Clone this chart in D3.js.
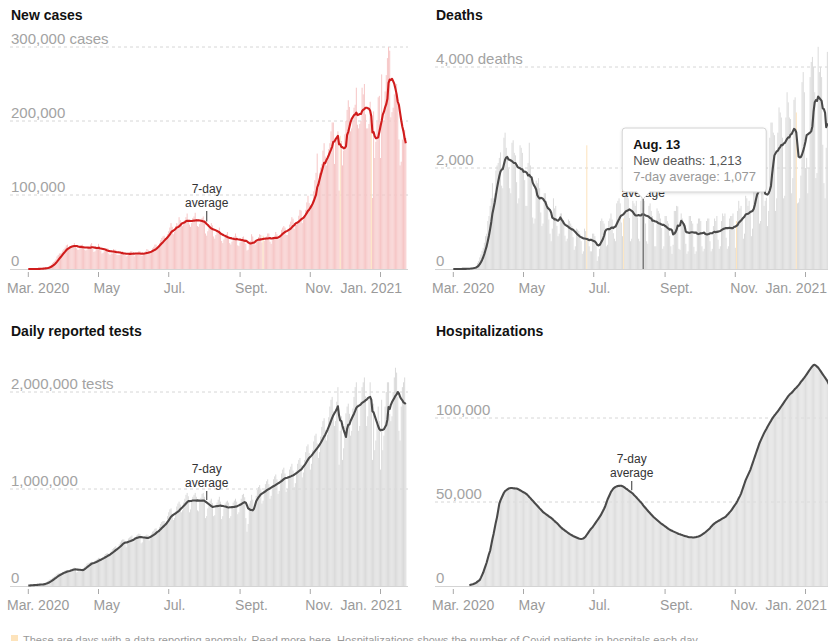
<!DOCTYPE html>
<html><head><meta charset="utf-8">
<script src="https://cdn.jsdelivr.net/npm/d3@7/dist/d3.min.js"></script>
<style>
html,body{margin:0;padding:0;background:#fff;overflow:hidden}
svg{display:block;font-family:"Liberation Sans",Arial,Helvetica,sans-serif}
</style></head><body>
<svg id="chart" width="828" height="641"></svg>
<script>
// ---------- DATA (one row = one week, Sunday..Saturday, starting Sun. Mar. 1, 2020) ----------
const tickDates = ["2020-03-01","2020-05-01","2020-07-01","2020-09-01","2020-11-01","2021-01-01"];
const tickLabels = ["Mar. 2020","May","Jul.","Sept.","Nov.","Jan. 2021"];

// New cases, thousands per day
const casesDaily = [
0.01,0.02,0.03,0.03,0.05,0.07,0.1,
0.13,0.2,0.28,0.4,0.55,0.7,1.0,
1.1,1.6,1.9,2.6,3.6,4.8,5.9,
8,9.5,11,13,17,19,21,
21,22,25,27,29,32,33,
28,29,30,31,32,35,32,
28,26,26,30,32,33,31,
26,25,26,29,31,33,35,
27,23,24,27,30,34,31,
25,21,22,24,27,28,28,
21,19,21,21,27,26,26,
19,19,19,20,23,24,23,
19,17,18,20,22,24,24,
20,17,20,20,22,24,24,
18,18,19,22,24,27,26,
21,20,24,28,30,33,33,
30,31,35,39,42,44,45,
42,42,47,51,56,62,57,
47,50,58,62,60,70,66,
60,58,62,66,70,75,64,
60,57,62,69,71,76,67,
58,57,61,67,69,71,65,
48,45,51,55,58,62,59,
44,41,46,50,52,56,47,
38,35,40,45,47,50,42,
35,33,37,43,44,48,44,
32,31,36,40,43,44,40,
34,25,26,34,38,47,44,
35,33,37,39,43,47,46,
36,37,38,40,44,48,48,
37,34,39,42,45,50,47,
40,41,46,53,56,58,56,
46,46,52,60,64,70,68,
54,60,60,64,72,80,79,
62,67,73,80,90,99,89,
80,86,93,105,120,130,156,
110,130,137,142,160,170,152,
140,150,162,170,186,198,198,
142,172,178,186,106,198,173,
140,160,182,200,215,228,219,
186,190,200,218,222,245,195,
190,196,200,245,236,250,209,
190,190,196,226,184,96,213,
150,172,199,232,234,150,263,
210,200,240,262,285,300,295,
205,212,218,236,238,250,223,
175,140,145,175,190,188,177
];
const casesAnomalies = [[204,45],[271,180],[298,200]];
const casesTicks = [0,100,200,300];

// Deaths per day
const deathsDaily = [
0,0,1,1,1,2,2,
2,3,4,5,6,7,8,
12,18,24,30,36,45,50,
120,160,230,290,360,420,520,
650,700,950,1050,1250,1400,1700,
1400,1500,1950,2050,2100,2200,2310,
1650,1600,2600,2700,2400,2250,1990,
1600,1500,2500,2550,2300,2250,1720,
1300,1400,2450,2400,2300,1900,1760,
1250,1250,2100,2500,2050,1800,1020,
900,1000,1750,1700,1800,1600,1120,
850,900,1500,1500,1350,1250,980,
700,550,800,1400,1200,1250,855,
650,700,1100,1100,1000,950,660,
550,600,980,950,900,850,630,
380,450,800,780,750,700,550,
300,350,800,750,720,620,450,
350,350,700,700,650,450,160,
250,400,950,1000,950,900,800,
450,480,950,1000,1100,980,710,
600,550,1300,1350,1400,1300,920,
650,700,1500,1550,1450,1400,1010,
550,600,1350,1300,1250,1350,1020,
600,550,1350,1456,1213,1350,901,
550,500,1250,1300,1150,1050,920,
450,450,1200,1150,1100,1000,810,
400,450,1050,1050,950,900,660,
450,300,480,1150,1150,1250,1240,
400,380,1100,1000,900,900,500,
300,350,1050,1050,950,900,440,
300,350,900,1000,1000,950,450,
350,400,700,950,1000,1000,550,
350,400,850,1000,950,1050,580,
400,450,950,1100,1050,1100,620,
400,450,1000,1050,1050,1100,795,
420,550,1150,1350,1200,1250,1010,
600,700,1450,1400,1250,1350,1160,
650,800,1700,2000,2000,2000,1490,
900,950,2200,2300,1250,1350,1410,
850,1150,2600,2900,2900,2700,2650,
1150,1400,2700,3200,3100,3000,2600,
1400,1450,3000,3500,3300,3000,2970,
1500,1800,3350,3400,2900,1300,1318,
1400,1850,3700,3900,3500,2000,2200,
1500,2000,3800,4100,4200,4000,3500,
1800,1900,4400,3900,4000,3800,2460,
1700,1400,2400,4300,4000,3900,2950
];
const deathsAnomalies = [[116,2450],[148,1000],[246,950],[298,3100]];
const deathsTicks = [0,2000,4000];

// Daily reported tests, thousands per day
const testsDaily = [
5,6,8,10,12,13,16,
12,13,15,17,19,20,23,
28,32,40,50,60,70,70,
85,90,100,110,125,130,130,
130,135,145,150,160,165,165,
150,155,170,175,185,190,179,
140,145,160,170,175,180,185,
200,210,230,235,240,245,250,
230,235,260,270,280,290,290,
270,280,300,315,330,335,340,
320,330,360,380,390,400,410,
380,390,430,450,470,480,480,
430,400,440,490,500,510,520,
450,460,500,520,530,540,535,
440,450,490,510,520,530,525,
470,490,540,560,570,590,595,
540,550,610,640,660,670,670,
620,640,720,760,790,800,745,
680,700,770,820,850,870,840,
760,780,860,900,940,960,925,
760,790,870,920,940,960,920,
780,770,870,910,950,960,920,
700,720,800,850,880,900,855,
720,730,820,860,890,920,870,
690,720,800,850,870,880,860,
700,720,810,860,880,900,870,
740,760,850,900,940,950,915,
700,560,640,850,880,940,890,
800,830,930,990,1020,1040,1005,
850,880,990,1050,1080,1100,1050,
900,930,1040,1100,1130,1150,1100,
950,980,1100,1160,1200,1220,1160,
970,1000,1130,1200,1230,1260,1190,
1020,1060,1190,1260,1300,1320,1250,
1120,1170,1300,1380,1440,1460,1370,
1200,1260,1400,1490,1550,1570,1470,
1320,1380,1540,1640,1700,1730,1610,
1500,1560,1740,1850,1920,1950,1800,
1650,1700,1900,2050,1250,1600,1750,
1300,1420,1650,1780,1850,1880,1775,
1550,1600,1830,1950,2050,2100,1870,
1600,1650,1900,2050,2100,2150,1955,
1650,1750,1950,2100,1900,1300,1880,
1400,1500,1700,1850,1700,1200,1920,
1400,1550,1850,2000,2100,2100,1775,
1700,1750,2000,2150,2250,2200,1950,
1600,1500,1850,2050,2100,2150,1882
];
const testsTicks = [0,1000,2000];

// Hospitalized patients, thousands
const hospDaily = [
null,null,null,null,null,null,null,
null,null,null,null,null,null,null,
0.5,0.7,0.9,1.0,1.3,1.6,2.0,
2.6,3.1,3.6,5,6.5,8,10,
12,14,16.5,19,21,24.5,28,
31,34.5,38,41,45,49,51,
52.5,54,55.5,56.5,57,57.5,58,
58.2,58.3,58.3,58.2,58.1,58,58,
57.7,57.4,57,56.6,56.2,55.8,55.5,
55,54.5,53.8,53,52.3,51.5,50.8,
50,49.2,48.5,47.8,47,46.2,45.5,
44.8,44,43.5,43,42.5,42,41.5,
41,40.5,40,39.3,38.7,38,37.5,
36.8,36,35.3,34.6,34,33.5,33,
32.5,32,31.5,31,30.6,30.2,29.8,
29.5,29.2,28.9,28.6,28.3,28.1,28,
28.1,28.3,28.8,29.5,30.5,31.5,32.5,
33.5,34.3,35,36,37,38,39,
40,41,42,43.3,44.6,46,47.5,
49.5,51.5,53,54.5,56,57,58,
58.5,59,59.3,59.5,59.6,59.7,59.7,
59.4,59,58.5,58,57.6,57,56.5,
56,55.5,55,54.2,53.5,52.8,52,
51.3,50.5,49.8,49,48,47.2,46.4,
45.6,44.8,44,43.3,42.5,41.8,41.1,
40.5,39.9,39.3,38.7,38.1,37.5,37,
36.5,36,35.5,35,34.5,34,33.6,
33.2,32.9,32.5,32.2,31.9,31.6,31.3,
31,30.8,30.5,30.3,30,29.8,29.6,
29.4,29.2,29,29,29,28.9,28.9,
29,29.1,29.3,29.5,29.8,30.1,30.5,
31,31.5,32,32.6,33.2,33.8,34.4,
35.3,36,36.7,37.3,37.8,38.2,38.6,
39,39.4,39.8,40.2,40.6,41,41.5,
42.3,43,43.8,44.6,45.5,46.5,47.5,
48.5,49.5,50.8,52.2,53.5,55,57,
59,61,63,64.5,66,67.5,69,
71,73,75,77,79,81,83,
85,86.5,88,89.5,91,92.3,93.5,
94.8,96,97.2,98.3,99.5,100.5,101.5,
102.3,103.2,104,105,106,107,108,
109,110,111,112,113,113.8,114.5,
115,115.8,116.6,117.4,118,118.8,119.6,
120.5,121.5,122.3,123.2,124,125,126,
127,128,129,130,130.8,131.5,131.7,
131.2,130.6,130,129,128,127,126,
125,124,123,122,120.5,119.5,118
];
const hospTicks = [0,50,100];

const hoverDay = 165;           // Aug. 13
const hoverLabel = "Aug. 13";
const annotationDay = 155;
const footnote = "These are days with a data reporting anomaly. Read more here. Hospitalizations shows the number of Covid patients in hospitals each day.";

// ---------- DRAWING ----------
const svg = d3.select("#chart");
const DAY0 = new Date(2020, 2, 1, 12), JAN1 = new Date(2021, 0, 1, 12);
const dayDate = i => d3.timeDay.offset(DAY0, i);
const fmt = d3.format(",");
const ANOM = "#fde3bb";

function trailingMean(arr) {
  return arr.map((v, i) => {
    if (v == null) return null;
    const w = arr.slice(Math.max(0, i - 6), i + 1).filter(d => d != null);
    return d3.mean(w);
  });
}

function panel(c) {
  const g = svg.append("g");
  const x = d3.scaleTime().domain([DAY0, JAN1]).range([28.3 + c.dx, 380.5 + c.dx]);
  const y = d3.scaleLinear().domain([0, c.yMax]).range([c.base, c.top]);
  const gx0 = 10 + c.dx, gx1 = 408 + c.dx;

  g.append("text").attr("x", 11 + c.dx).attr("y", c.titleY)
    .attr("font-size", 14).attr("font-weight", "bold").attr("fill", "#121212")
    .text(c.title);

  // dashed gridlines
  g.append("g").selectAll("line").data(c.ticks.filter(v => v > 0)).join("line")
    .attr("x1", gx0).attr("x2", gx1).attr("y1", d => y(d)).attr("y2", d => y(d))
    .attr("stroke", "#d6d6d6").attr("stroke-dasharray", "3,3");

  // daily bars
  const anom = new Map(c.anomalies);
  const days = c.daily.map((v, i) => ({ i, v: anom.has(i) ? anom.get(i) : v, a: anom.has(i) }))
    .filter(d => d.v != null);
  g.append("g").selectAll("rect").data(days).join("rect")
    .attr("x", d => x(dayDate(d.i)) - 0.5)
    .attr("width", 1)
    .attr("y", d => y(d.v))
    .attr("height", d => Math.max(0, c.base - y(d.v)))
    .attr("fill", d => d.a ? ANOM : c.barColor);

  // baseline
  g.append("line").attr("x1", gx0).attr("x2", gx1).attr("y1", c.base + 0.5).attr("y2", c.base + 0.5)
    .attr("stroke", "#d4d4d4");

  // x ticks
  const tds = tickDates.map(s => { const [yy, mm, dd] = s.split("-").map(Number); return new Date(yy, mm - 1, dd, 12); });
  const ax = g.append("g");
  ax.selectAll("line").data(tds).join("line")
    .attr("x1", d => x(d)).attr("x2", d => x(d)).attr("y1", c.base + 3).attr("y2", c.base + 8)
    .attr("stroke", "#a8a8a8");
  const n = tds.length;
  ax.selectAll("text").data(tds).join("text")
    .attr("x", (d, i) => i === 0 ? 7 + c.dx : i === n - 1 ? 402 + c.dx : x(d) - 5)
    .attr("text-anchor", (d, i) => i === n - 1 ? "end" : "start")
    .attr("y", c.base + 24)
    .attr("font-size", 14).attr("fill", "#9a9a9a")
    .text((d, i) => tickLabels[i]);

  // average line
  const avg = c.smooth ? trailingMean(c.daily) : c.daily.slice();
  const line = d3.line().defined(d => d != null).x((d, i) => x(dayDate(i))).y(d => y(d));
  g.append("path").datum(avg).attr("d", line).attr("fill", "none")
    .attr("stroke", c.lineColor).attr("stroke-width", 2.1).attr("stroke-linejoin", "round");

  // y labels
  g.append("g").selectAll("text").data(c.ticks).join("text")
    .attr("x", 11 + c.dx).attr("y", d => y(d) - 3)
    .attr("font-size", 15).attr("fill", "#a3a3a3")
    .text(d => fmt(d * c.mult) + (d === c.ticks[c.ticks.length - 1] && c.unit ? " " + c.unit : ""));

  // annotation
  if (c.ann) {
    const aX = x(dayDate(c.ann.day));
    const t = g.append("text").attr("text-anchor", "middle").attr("font-size", 12).attr("fill", "#333");
    if (c.ann.first !== false) t.append("tspan").attr("x", aX).attr("y", c.ann.y).text("7-day");
    t.append("tspan").attr("x", aX).attr("y", c.ann.y + 13.5).text("average");
    if (c.ann.tick) {
      g.append("line").attr("x1", aX).attr("x2", aX)
        .attr("y1", c.ann.y + 18).attr("y2", y(avg[c.ann.day]) - 2.5)
        .attr("stroke", "#555").attr("stroke-width", 1.2);
    }
  }
  return { x, y, avg, g };
}

const P1 = panel({ title: "New cases", dx: 0, titleY: 20, base: 269, top: 47, yMax: 300,
  ticks: casesTicks, mult: 1000, unit: "cases", daily: casesDaily, anomalies: casesAnomalies,
  barColor: "#f6c6c6", lineColor: "#d01c1c", smooth: true,
  ann: { day: annotationDay, y: 193, tick: true } });

// the "7-day" line of this annotation sits under the tooltip in the reference
const P2 = panel({ title: "Deaths", dx: 425, titleY: 20, base: 269, top: 67, yMax: 4000,
  ticks: deathsTicks, mult: 1, unit: "deaths", daily: deathsDaily, anomalies: deathsAnomalies,
  barColor: "#dbdbdb", lineColor: "#4a4a4a", smooth: true,
  ann: { day: hoverDay, y: 183, tick: false, first: false } });

const P3 = panel({ title: "Daily reported tests", dx: 0, titleY: 336, base: 586, top: 392, yMax: 2000,
  ticks: testsTicks, mult: 1000, unit: "tests", daily: testsDaily, anomalies: [],
  barColor: "#dadada", lineColor: "#4a4a4a", smooth: true,
  ann: { day: annotationDay, y: 473, tick: true } });

const P4 = panel({ title: "Hospitalizations", dx: 425, titleY: 336, base: 586, top: 418, yMax: 100,
  ticks: hospTicks, mult: 1000, unit: "", daily: hospDaily, anomalies: [],
  barColor: "#dedede", lineColor: "#4a4a4a", smooth: false,
  ann: { day: annotationDay, y: 463, tick: true } });

// hover rule + tooltip on the deaths chart
const hx = P2.x(dayDate(hoverDay));
P2.g.append("line").attr("x1", hx).attr("x2", hx).attr("y1", 199).attr("y2", 269)
  .attr("stroke", "#6a6a6a").attr("stroke-width", 1.3);

const defs = svg.append("defs");
const f = defs.append("filter").attr("id", "sh").attr("x", "-10%").attr("y", "-10%").attr("width", "120%").attr("height", "130%");
f.append("feDropShadow").attr("dx", 0).attr("dy", 1).attr("stdDeviation", 1.5).attr("flood-color", "#000").attr("flood-opacity", 0.12);

const tip = svg.append("g");
const bx = hx - 21, by = 128, bw = 144, bh = 64;
tip.append("rect").attr("x", bx).attr("y", by).attr("width", bw).attr("height", bh).attr("rx", 3)
  .attr("fill", "#fff").attr("stroke", "#d2d2d2").attr("filter", "url(#sh)");
tip.append("path").attr("d", `M${hx - 7},${by + bh - 0.5} L${hx},${by + bh + 7} L${hx + 7},${by + bh - 0.5}`)
  .attr("fill", "#fff").attr("stroke", "#d2d2d2");
tip.append("line").attr("x1", hx - 6).attr("x2", hx + 6).attr("y1", by + bh - 0.5).attr("y2", by + bh - 0.5)
  .attr("stroke", "#fff").attr("stroke-width", 1.5);
tip.append("text").attr("x", bx + 11).attr("y", by + 21).attr("font-size", 13).attr("font-weight", "bold")
  .attr("fill", "#121212").text(hoverLabel);
tip.append("text").attr("x", bx + 11).attr("y", by + 37).attr("font-size", 13).attr("fill", "#555")
  .text("New deaths: " + fmt(deathsDaily[hoverDay]));
tip.append("text").attr("x", bx + 11).attr("y", by + 53).attr("font-size", 13).attr("fill", "#999")
  .text("7-day average: " + fmt(Math.round(P2.avg[hoverDay])));

// footnote (cut by the bottom edge)
svg.append("rect").attr("x", 11).attr("y", 635).attr("width", 7).attr("height", 7).attr("fill", ANOM);
svg.append("text").attr("x", 23).attr("y", 644).attr("font-size", 11).attr("fill", "#999").text(footnote);
</script>
</body></html>
